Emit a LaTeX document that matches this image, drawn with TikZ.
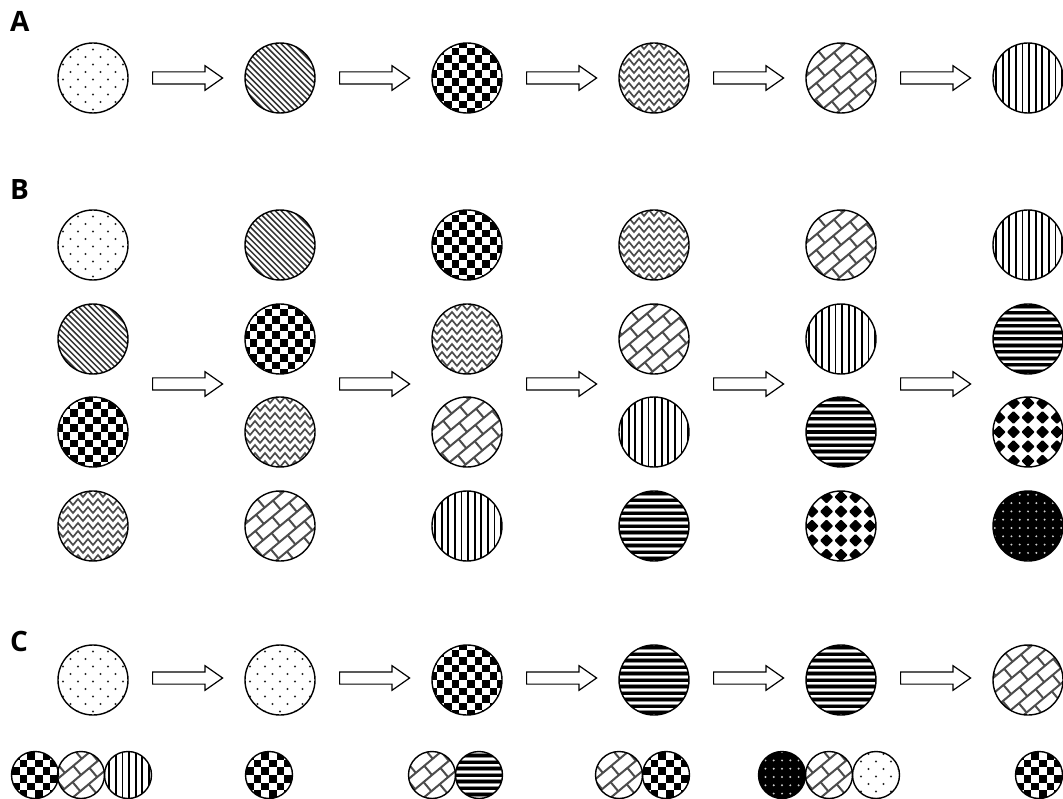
\documentclass[tikz,border=0pt]{standalone}
\usepackage{fontspec}
\setsansfont{Open Sans}
\usetikzlibrary{shapes.arrows}
\newcommand\PatDots{\begin{scope}[shift={(path picture bounding box.center)}]
 \foreach \i in {-5,...,5}{\foreach \j in {-5,...,5}{%
   \pgfmathtruncatemacro\pp{mod(abs(\i+\j),2)}%
   \ifnum\pp=0 \fill[black!85] (7.5*\i,7.5*\j+1.5) circle (1.1pt);\fi}}
\end{scope}}
\newcommand\PatDiag{\begin{scope}[shift={(path picture bounding box.center)}]
 \foreach \k in {-10,...,10}{\draw[line width=1.5pt, black!80] (\k*5.9-50,-50) -- (\k*5.9+50,50);}
\end{scope}}
\newcommand\PatChecker{\begin{scope}[shift={(path picture bounding box.center)}]
 \foreach \i in {-5,...,4}{\foreach \j in {-5,...,4}{%
   \pgfmathtruncatemacro\pp{mod(abs(\i+\j),2)}%
   \ifnum\pp=0 \fill (\i*7.6,\j*7.6) rectangle ++(7.6,7.6);\fi}}
\end{scope}}
\newcommand\PatWave{\begin{scope}[shift={(path picture bounding box.center)}]
 \foreach \y in {-40,-32,...,40}{\draw[line width=1.7pt, black!70] (-50,\y+3) \foreach \m in {-4,...,5}{ -- (\m*10-5,\y-3) -- (\m*10,\y+3)};}
\end{scope}}
\newcommand\PatBrick{\begin{scope}[shift={(path picture bounding box.center)}]
 \begin{scope}[x={(0.766pt,0.643pt)}, y={(-0.643pt,0.766pt)}]
 \foreach \r in {-5,...,5}{\draw[line width=2pt, black!70] (-60,\r*12) -- (60,\r*12);
   \foreach \c in {-3,...,3}{\draw[line width=2pt, black!70] ({\c*22+11*mod(abs(\r),2)},\r*12) -- ++(0,12);}}
 \end{scope}
\end{scope}}
\newcommand\PatVert{\begin{scope}[shift={(path picture bounding box.center)}]
 \foreach \k in {-6,...,6}{\draw[line width=1.8pt] (\k*6.6+1,-40) -- (\k*6.6+1,40);}
\end{scope}}
\newcommand\PatHoriz{\begin{scope}[shift={(path picture bounding box.center)}]
 \foreach \k in {-6,...,6}{\draw[line width=4.4pt, black!45] (-40,\k*6.5) -- (40,\k*6.5);
   \draw[line width=3pt] (-40,\k*6.5) -- (40,\k*6.5);}
\end{scope}}
\newcommand\PatDiam{\begin{scope}[shift={(path picture bounding box.center)}]
 \foreach \i in {-3,...,3}{\foreach \j in {-3,...,3}{%
   \fill[rounded corners=1pt] (\i*14.5-6.7,\j*14.5) -- ++(6.7,-6.7) -- ++(6.7,6.7) -- ++(-6.7,6.7) -- cycle;}}
\end{scope}}
\newcommand\PatBlack{\fill (path picture bounding box.south west) rectangle (path picture bounding box.north east);
 \begin{scope}[shift={(path picture bounding box.center)}]
 \foreach \i in {-5,...,5}{\foreach \j in {-5,...,5}{\fill[white!80!black] (\i*8.3,\j*8.3+2) circle (1.1pt);}}
\end{scope}}
\tikzset{
 ball/.style={circle, draw, line width=1.4pt, minimum size=70pt, inner sep=0pt},
 sball/.style={ball, minimum size=47pt},
 blockarrow/.style={single arrow, draw, line width=1.2pt, minimum height=70pt, inner xsep=0pt, inner ysep=5.5pt, text height=0pt, text depth=0pt, text width=0pt, single arrow head extend=6.2pt, single arrow tip angle=70, anchor=tail},
 lab/.style={font=\sffamily\bfseries\fontsize{28}{28}\selectfont, inner sep=0pt, anchor=base west},
 pdots/.style={path picture={\PatDots}},
 pdiag/.style={path picture={\PatDiag}},
 pcheck/.style={path picture={\PatChecker}},
 pwave/.style={path picture={\PatWave}},
 pbrick/.style={path picture={\PatBrick}},
 pvert/.style={path picture={\PatVert}},
 phoriz/.style={path picture={\PatHoriz}},
 pdiam/.style={path picture={\PatDiam}},
 pblack/.style={path picture={\PatBlack}},
}
\begin{document}
\begin{tikzpicture}[x=1pt,y=-1pt]
\useasboundingbox (0,0) rectangle (1063,799);
% labels
\node[lab] (labA) at (10,32) {A};
\node[lab] (labB) at (10,200) {B};
\node[lab] (labC) at (10,651) {C};
% panel A
\node[ball,pdots]  (a1) at (93,78) {};
\node[ball,pdiag]  (a2) at (280,78) {};
\node[ball,pcheck] (a3) at (467,78) {};
\node[ball,pwave]  (a4) at (654,78) {};
\node[ball,pbrick] (a5) at (841,78) {};
\node[ball,pvert]  (a6) at (1028,78) {};
\foreach \x/\n in {152/1,339/2,526/3,713/4,900/5}{\node[blockarrow] (aa\n) at (\x,78) {};}
% panel B
\node[ball,pdots]  (b11) at (93,245) {};
\node[ball,pdiag]  (b12) at (93,339) {};
\node[ball,pcheck] (b13) at (93,432) {};
\node[ball,pwave]  (b14) at (93,526) {};
\node[ball,pdiag]  (b21) at (280,245) {};
\node[ball,pcheck] (b22) at (280,339) {};
\node[ball,pwave]  (b23) at (280,432) {};
\node[ball,pbrick] (b24) at (280,526) {};
\node[ball,pcheck] (b31) at (467,245) {};
\node[ball,pwave]  (b32) at (467,339) {};
\node[ball,pbrick] (b33) at (467,432) {};
\node[ball,pvert]  (b34) at (467,526) {};
\node[ball,pwave]  (b41) at (654,245) {};
\node[ball,pbrick] (b42) at (654,339) {};
\node[ball,pvert]  (b43) at (654,432) {};
\node[ball,phoriz] (b44) at (654,526) {};
\node[ball,pbrick] (b51) at (841,245) {};
\node[ball,pvert]  (b52) at (841,339) {};
\node[ball,phoriz] (b53) at (841,432) {};
\node[ball,pdiam]  (b54) at (841,526) {};
\node[ball,pvert]  (b61) at (1028,245) {};
\node[ball,phoriz] (b62) at (1028,339) {};
\node[ball,pdiam]  (b63) at (1028,432) {};
\node[ball,pblack] (b64) at (1028,526) {};
\foreach \x/\n in {152/1,339/2,526/3,713/4,900/5}{\node[blockarrow] (ba\n) at (\x,384) {};}
% panel C
\node[ball,pdots]  (c1) at (93,680) {};
\node[ball,pdots]  (c2) at (280,680) {};
\node[ball,pcheck] (c3) at (467,680) {};
\node[ball,phoriz] (c4) at (654,680) {};
\node[ball,phoriz] (c5) at (841,680) {};
\node[ball,pbrick] (c6) at (1028,680) {};
\foreach \x/\n in {152/1,339/2,526/3,713/4,900/5}{\node[blockarrow] (ca\n) at (\x,678) {};}
\node[sball,pcheck] (d11) at (35,775) {};
\node[sball,pbrick] (d12) at (81,775) {};
\node[sball,pvert]  (d13) at (128,775) {};
\node[sball,pcheck] (d21) at (269,775) {};
\node[sball,pbrick] (d31) at (432,775) {};
\node[sball,phoriz] (d32) at (479,775) {};
\node[sball,pbrick] (d41) at (619,775) {};
\node[sball,pcheck] (d42) at (666,775) {};
\node[sball,pblack] (d51) at (782,775) {};
\node[sball,pbrick] (d52) at (829,775) {};
\node[sball,pdots]  (d53) at (876,775) {};
\node[sball,pcheck] (d61) at (1039,775) {};
\end{tikzpicture}
\end{document}
